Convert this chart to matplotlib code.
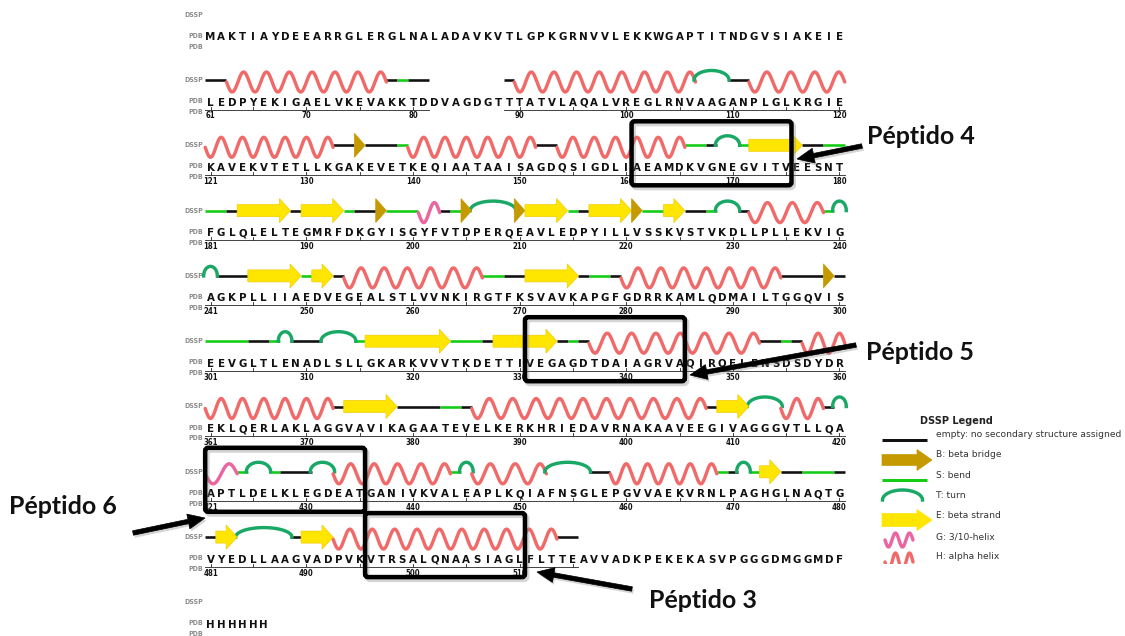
import numpy as np
import matplotlib
matplotlib.use("Agg")
from matplotlib import pyplot as plt
from matplotlib.patches import Polygon, FancyBboxPatch, Rectangle

# Sequência (60 resíduos por linha)
seq_rows = [
    "MAKTIAYDEEARRGLERGLNALADAVKVTLGPKGRNVVLEKKWGAPTITNDGVSIAKEIE",
    "LEDPYEKIGAELVKEVAKKTDDVAGDGTTTATVLAQALVREGLRNVAAGANPLGLKRGIE",
    "KAVEKVTETLLKGAKEVETKEQIAATAAISAGDQSIGDLIAEAMDKVGNEGVITVEESNT",
    "FGLQLELTEGMRFDKGYISGYFVTDPERQEAVLEDPYILLVSSKVSTVKDLLPLLEKVIG",
    "AGKPLLIIAEDVEGEALSTLVVNKIRGTFKSVAVKAPGFGDRRKAMLQDMAILTGGQVIS",
    "EEVGLTLENADLSLLGKARKVVVTKDETTIVEGAGDTDAIAGRVAQIRQELENSDSDYDR",
    "EKLQERLAKLAGGVAVIKAGAATEVELKERKHRIEDAVRNAKAAVEEGIVAGGGVTLLQA",
    "APTLDELKLEGDEATGANIVKVALEAPLKQIAFNSGLEPGVVAEKVRNLPAGHGLNAQTG",
    "VYEDLLAAGVADPVKVTRSALQNAASIAGLFLTTEAVVADKPEKEKASVPGGGDMGGMDF",
    "HHHHHH",
]

# DSSP por resíduo (' ' = resíduo sem estrutura resolvida)
dssp_rows = [
    "",
    "--" "HHHHHHHHHHHHHHH" "-S--" "       " "-" "HHHHHHHHHHHHHHHHH" "TTT" "--" "HHHHHHHHH",
    "HHHHHHHHHHHH" "--" "B" "---" "S" "HHHHHHHHHHHH" "--" "HHHHHHHHHHHH" "SS" "-" "TT" "S" "EEEEE" "--" "SS",
    "SS" "-" "EEEEE" "-" "EEEE" "S" "--" "B" "SSS" "GG" "-S" "B" "TTTT" "B" "EEEE" "S" "-" "EEEE" "B" "SS"
    "EE" "--" "S" "TT" "-" "HHHHHHH" "S" "T",
    "T" "---" "EEEEE" "S" "EE" "-" "HHHHHHHHHHHHH" "SS" "--" "EEEEE" "-" "SS" "-" "HHHHHHHHHHHHHHH" "----" "B" "-",
    "SSSS" "--" "S" "T" "---" "TTT" "S" "EEEEEEEE" "SSS" "-" "EEEEEE" "-" "S" "-" "HHHHHHHHHHHHHHHH" "--" "S" "-" "HHHH",
    "HHHHHHHHHHHH" "-" "EEEEE" "----" "SS" "-" "HHHHHHHHHHHHHHHHHHHHHH" "-" "EEE" "TTT" "HHHH" "-" "T",
    "GGG" "S" "TT" "S" "---" "TT" "HHHHHHHHHHH" "S" "T" "HHHHHHH" "TTTT" "--" "HHHHHHHHHH" "S" "-" "T" "S" "EE"
    "--" "SSS" "-",
    "-" "EE" "TTTTT" "-" "EEE" "HHHHHHHHHHHHHHHHHHHHH" "--",
    "",
]

# Peptídeos destacados
pep_names = ["Péptido 4", "Péptido 5", "Péptido 6", "Péptido 3"]
pep_start = [161, 331, 421, 496]
pep_end = [175, 345, 435, 510]
pep_text_xy = [(867, 137), (866, 352), (9, 506), (649, 600)]
pep_arrow_tail = [(862, 146), (856, 345), (133, 533), (632, 589)]
pep_arrow_tip = [(797, 159), (690, 375), (205, 518), (537, 572)]

# Legenda DSSP
legend_codes = ["-", "B", "S", "T", "E", "G", "H"]
legend_labels = ["empty: no secondary structure assigned", "B: beta bridge", "S: bend", "T: turn",
                 "E: beta strand", "G: 3/10-helix", "H: alpha helix"]

colors = {"-": "#111111", "S": "#14cc14", "T": "#1aa866", "H": "#f06a6a", "G": "#ea66a0",
          "E": "#ffe600", "B": "#c49a00"}

# geometria em pixels
X0 = 210.5
W = 10.66
DSSP_Y1 = 80.0
ROW_H = 65.3
PT = 72 / 100  # pontos por pixel


def dssp_y(r):
    return DSSP_Y1 + ROW_H * (r - 1)


def seq_y(r):
    return dssp_y(r) + 21


def res_x(k):
    return X0 + W * k


def runs(s):
    out = []
    i = 0
    while i < len(s):
        j = i
        while j + 1 < len(s) and s[j + 1] == s[i]:
            j += 1
        out.append((s[i], i, j))
        i = j + 1
    return out


fig = plt.figure(figsize=(11.25, 6.36), dpi=100)
ax = fig.add_axes([0, 0, 1, 1])
ax.set_xlim(0, 1125)
ax.set_ylim(636, 0)
ax.axis("off")


def draw_line(x0, x1, y, c, lw=2.6):
    ax.plot([x0, x1], [y, y], color=c, lw=lw * PT, solid_capstyle="butt", zorder=2)


def draw_wave(x0, x1, y, c, period=23.0, amp=10.0, clip=None):
    n = max(1, round((x1 - x0) / period))
    xs = np.linspace(x0, x1, 200)
    ys = y + 2 + amp * np.sin(2 * np.pi * n * (xs - x0) / (x1 - x0))
    ln, = ax.plot(xs, ys, color=c, lw=3.4 * PT, solid_capstyle="round", zorder=3)
    if clip is not None:
        ln.set_clip_path(clip)


def draw_turn(x0, x1, y, c, h=9.5):
    t = np.linspace(np.pi, 0, 80)
    cx = (x0 + x1) / 2
    a = (x1 - x0) / 2 + 1.5
    ax.plot(cx + a * np.cos(t), y - h * np.sin(t), color=c, lw=3.4 * PT, zorder=3)


def draw_strand(x0, x1, y, c, body=12, head=24, hl=11):
    hl = min(hl, (x1 - x0) * 0.6)
    xb = x1 - hl
    pts = [(x0, y - body / 2), (xb, y - body / 2), (xb, y - head / 2), (x1, y),
           (xb, y + head / 2), (xb, y + body / 2), (x0, y + body / 2)]
    ax.add_patch(Polygon(pts, closed=True, fc=c, ec="#f0cc00", lw=0.5, zorder=4))


def draw_bridge(x0, x1, y, c, h=24):
    ax.add_patch(Polygon([(x0, y - h / 2), (x1, y), (x0, y + h / 2)], closed=True,
                         fc=c, ec=c, lw=0.5, zorder=4))


def arrow_pts(tail, tip, shaft=4.5, hw=15, hl=17):
    tail = np.array(tail, float)
    tip = np.array(tip, float)
    d = tip - tail
    u = d / np.hypot(*d)
    n = np.array([-u[1], u[0]])
    base = tip - u * hl
    return [tail + n * shaft / 2, base + n * shaft / 2, base + n * hw / 2, tip,
            base - n * hw / 2, base - n * shaft / 2, tail - n * shaft / 2]


seq_font = dict(fontsize=8.2, fontweight="bold", fontstretch="condensed", color="#111111")
lab_font = dict(fontsize=5, fontweight="bold", fontstretch="condensed", color="#8c8c8c")

for r in range(len(seq_rows)):
    ds = dssp_rows[r].ljust(60)
    assert len(ds) == 60, (r, len(ds))
    yd = dssp_y(r)
    ys = seq_y(r)
    ax.text(203, yd, "DSSP", ha="right", va="center", **lab_font)
    ax.text(203, ys, "PDB", ha="right", va="center", **lab_font)
    ax.text(203, ys + 11, "PDB", ha="right", va="center", **lab_font)

    # letras da sequência
    for k, aa in enumerate(seq_rows[r]):
        ax.text(res_x(k), ys + 4.5, aa, ha="center", va="baseline", **seq_font)

    # estrutura secundária
    for code, k0, k1 in runs(ds):
        if code == " ":
            continue
        x0 = res_x(k0) - W / 2
        x1 = res_x(k1) + W / 2
        c = colors[code]
        if code in "-S":
            draw_line(x0, x1, yd, c)
        elif code in "HG":
            draw_wave(x0, x1, yd, c)
        elif code == "T":
            draw_turn(x0, x1, yd, c)
        elif code == "E":
            draw_strand(x0, x1, yd, c)
        elif code == "B":
            draw_bridge(x0, x1, yd, c)

    # régua com numeração
    for code, k0, k1 in runs([" " if ch == " " else "x" for ch in ds]):
        if code == " ":
            continue
        ax.plot([res_x(k0) - W / 2, res_x(k1) + W / 2], [ys + 8.5, ys + 8.5], color="#333333",
                lw=0.9 * PT, zorder=1)
        for k in range(k0, k1 + 1):
            resnum = 60 * r + k + 1
            if k == 0 or resnum % 5 == 0:
                ax.plot([res_x(k), res_x(k)], [ys + 5.5, ys + 8.5], color="#333333", lw=0.9 * PT)
            if k == 0 or resnum % 10 == 0:
                ax.text(res_x(k), ys + 17.5, str(resnum), ha="center", va="baseline",
                        fontsize=5.6, fontweight="bold", fontstretch="condensed", color="#111111")

# caixas e setas dos peptídeos
for name, s, e, txy, tail, tip in zip(pep_names, pep_start, pep_end, pep_text_xy,
                                      pep_arrow_tail, pep_arrow_tip):
    r = (s - 1) // 60
    xl = res_x((s - 1) % 60) - W / 2
    xr = res_x((e - 1) % 60) + W / 2
    yt = seq_y(r) - 45
    yb = seq_y(r) + 19
    ax.add_patch(FancyBboxPatch((xl + 2, yt + 2.5), xr - xl, yb - yt,
                                boxstyle="round,pad=0,rounding_size=3", fill=False,
                                ec="#888888", lw=5 * PT, alpha=0.35, zorder=5))
    ax.add_patch(FancyBboxPatch((xl, yt), xr - xl, yb - yt,
                                boxstyle="round,pad=0,rounding_size=3", fill=False,
                                ec="black", lw=4.5 * PT, zorder=6))
    sh = [(p[0] + 1.5, p[1] + 2.5) for p in arrow_pts(tail, tip)]
    ax.add_patch(Polygon(sh, closed=True, fc="#888888", ec="none", alpha=0.35, zorder=5))
    ax.add_patch(Polygon(arrow_pts(tail, tip), closed=True, fc="black", ec="black",
                         lw=0.5, zorder=7))
    ax.text(txy[0], txy[1], name, ha="left", va="center", fontsize=18, fontweight="bold",
            family=["Lato", "DejaVu Sans"], color="#111111", zorder=7)

# legenda
ax.text(920, 421, "DSSP Legend", ha="left", va="center", fontsize=7, fontweight="bold",
        color="#222222")
leg_y = [439.5, 460, 480, 500, 520, 540, 562]
leg_text_y = [434.5, 454.5, 475, 496, 516, 536.5, 556.5]
clip_rect = Rectangle((870, 420), 80, 144, transform=ax.transData)
for code, lab, y, ty in zip(legend_codes, legend_labels, leg_y, leg_text_y):
    c = colors[code]
    if code in "-S":
        draw_line(882, 927, y, c, lw=3)
    elif code == "T":
        draw_turn(884, 921, y, c, h=10)
    elif code in "EB":
        body = 13 if code == "E" else 11
        pts = [(882, y - body / 2), (917, y - body / 2), (917, y - 10.5), (932, y),
               (917, y + 10.5), (917, y + body / 2), (882, y + body / 2)]
        ax.add_patch(Polygon(pts, closed=True, fc=c, ec=c, lw=0.5, zorder=4))
    elif code == "G":
        draw_wave(885, 913, y - 2, c, period=17, amp=7)
    elif code == "H":
        draw_wave(885, 913, y - 2, c, period=14, amp=9, clip=clip_rect)
    ax.text(936, ty, lab, ha="left", va="center", fontsize=6.6, color="#333333")

fig.savefig("out.png", dpi=100)
